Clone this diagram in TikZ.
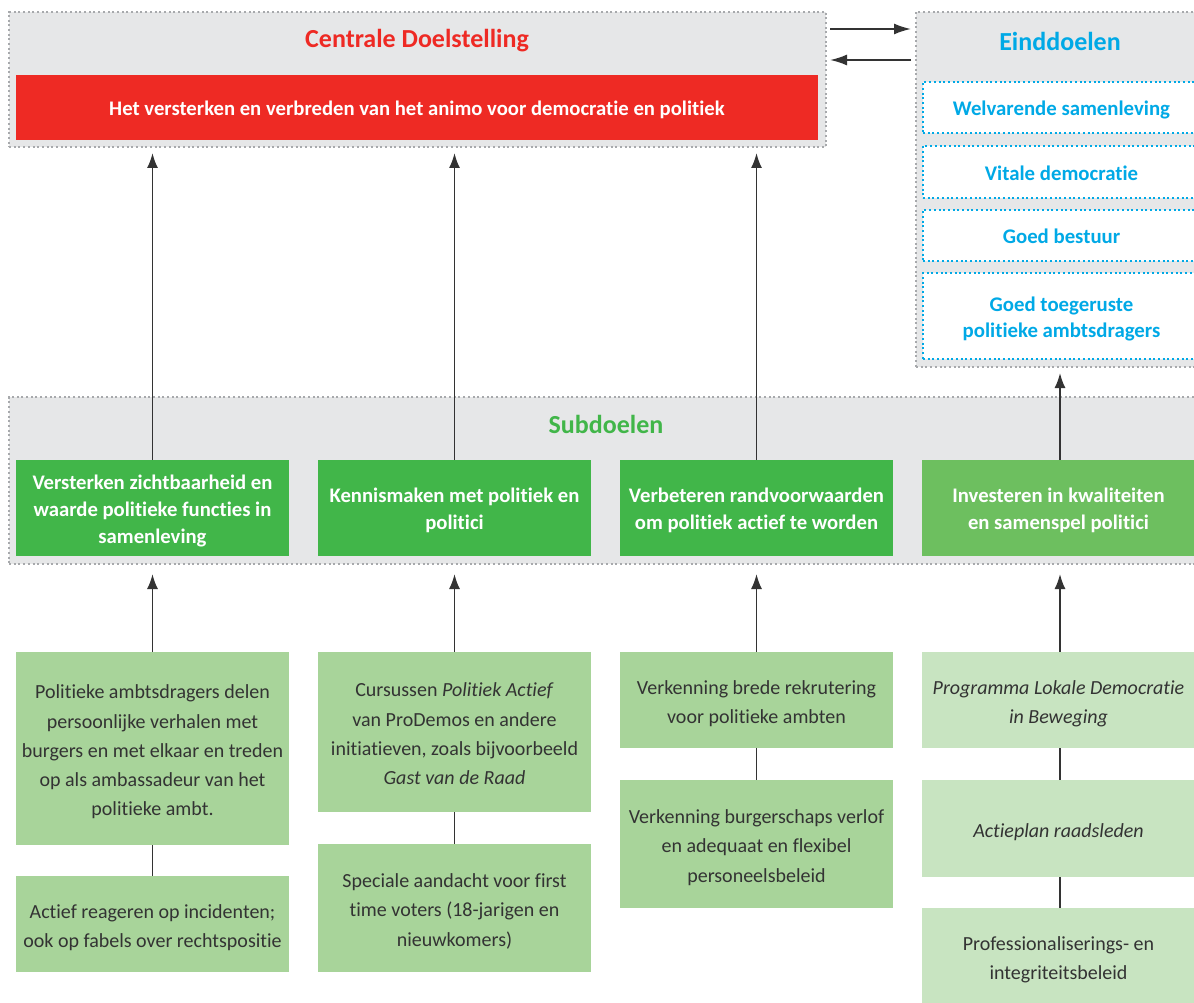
\documentclass[tikz,border=0pt]{standalone}
\usepackage{fontspec}
\setmainfont[Ligatures=NoCommon]{Carlito}
\usetikzlibrary{arrows.meta}
\definecolor{lichtgrijs}{HTML}{E6E7E8}
\definecolor{randgrijs}{HTML}{A7A9AC}
\definecolor{rood}{HTML}{EE2A24}
\definecolor{blauw}{HTML}{00A9E6}
\definecolor{groen}{HTML}{41B649}
\definecolor{groenlicht}{HTML}{6DBF5F}
\definecolor{mosgroen}{HTML}{A8D49A}
\definecolor{bleekgroen}{HTML}{C8E4C1}
\definecolor{tekst}{HTML}{333333}
\definecolor{lijn}{HTML}{333333}
\newcommand{\regels}[1]{\raisebox{-3pt}[\height][\depth]{\begin{tabular}{@{}c@{}}#1\end{tabular}}}

\begin{document}
\begin{tikzpicture}[x=1pt,y=-1pt]
	\tikzstyle{paneel}=[draw=randgrijs,fill=lichtgrijs,line width=2pt,dash pattern=on 2pt off 2.7pt,inner sep=0pt]
	\tikzstyle{titel}=[font=\fontsize{26}{30}\selectfont\bfseries]
	\tikzstyle{doel}=[fill=rood,text=white,font=\fontsize{20.7}{27}\selectfont\bfseries,minimum width=802,minimum height=65,inner sep=0pt]
	\tikzstyle{eind}=[draw=blauw,fill=white,line width=2pt,dash pattern=on 2pt off 2.7pt,text=blauw,font=\fontsize{20.8}{26}\selectfont\bfseries,minimum width=277,inner sep=0pt]
	\tikzstyle{sub}=[fill=groen,text=white,font=\fontsize{20.7}{27}\selectfont\bfseries,minimum width=273,minimum height=96,inner sep=0pt]
	\tikzstyle{actie}=[fill=mosgroen,text=tekst,font=\fontsize{20}{29.3}\selectfont,minimum width=273,inner sep=0pt]
	\tikzstyle{pijl}=[draw=lijn,line width=1.8pt,-{Latex[length=15pt,width=11pt]}]
	\tikzstyle{lijntje}=[draw=lijn,line width=1.8pt]
	\useasboundingbox (0,0) rectangle (1194,1003);

	\node[paneel,minimum width=817,minimum height=135] (cen) at (417.5,79.5) {};
	\node[titel,text=rood] (centitel) at (417,41) {Centrale Doelstelling};
	\node[doel] (hoofd) at (417,107.5) {\regels{Het versterken en verbreden van het animo voor democratie en politiek}};

	\node[paneel,minimum width=290,minimum height=355] (ein) at (1061,189.5) {};
	\node[titel,text=blauw] (eintitel) at (1060,41) {Einddoelen};
	\node[eind,minimum height=51] (e1) at (1061.5,107.5) {\regels{Welvarende samenleving}};
	\node[eind,minimum height=52] (e2) at (1061.5,172) {\regels{Vitale democratie}};
	\node[eind,minimum height=51] (e3) at (1061.5,235.5) {\regels{Goed bestuur}};
	\node[eind,minimum height=86] (e4) at (1061.5,316) {\regels{Goed toegeruste\\politieke ambtsdragers}};

	\draw[pijl,shorten <=3pt,shorten >=4pt,-{Latex[length=17pt,width=11pt]}] ([yshift=-18pt]cen.north east) -- ([yshift=-18pt]ein.north west);
	\draw[pijl,shorten <=4pt,shorten >=3pt,-{Latex[length=17pt,width=11pt]}] ([yshift=-49pt]ein.north west) -- ([yshift=-49pt]cen.north east);

	\node[paneel,minimum width=1195,minimum height=167] (subp) at (606.5,480.5) {};
	\node[titel,text=groen] (subtitel) at (606,424) {Subdoelen};
	\node[sub] (s1) at (152.5,508) {\regels{Versterken zichtbaarheid en\\waarde politieke functies in\\samenleving}};
	\node[sub] (s2) at (454.5,508) {\regels{Kennismaken met politiek en\\politici}};
	\node[sub] (s3) at (756.5,508) {\regels{Verbeteren randvoorwaarden\\om politiek actief te worden}};
	\node[sub,fill=groenlicht] (s4) at (1058.5,508) {\regels{Investeren in kwaliteiten\\en samenspel politici}};

	\draw[pijl,shorten >=5pt] (s1.north) -- (s1.north |- cen.south);
	\draw[pijl,shorten >=5pt] (s2.north) -- (s2.north |- cen.south);
	\draw[pijl,shorten >=5pt] (s3.north) -- (s3.north |- cen.south);
	\draw[pijl,shorten >=5pt] ([xshift=1.5pt]s4.north) -- ([xshift=1.5pt]s4.north |- ein.south);

	\node[actie,minimum height=193] (a1) at (152.5,748.5) {\regels{Politieke ambtsdragers delen\\persoonlijke verhalen met\\burgers en met elkaar en treden\\op als ambassadeur van het\\politieke ambt.}};
	\node[actie,minimum height=96] (a2) at (152.5,924) {\regels{Actief reageren op incidenten;\\ook op fabels over rechtspositie}};
	\node[actie,minimum height=160] (b1) at (454.5,732) {\regels{Cursussen \textit{Politiek Actief}\\van ProDemos en andere\\initiatieven, zoals bijvoorbeeld\\\textit{Gast van de Raad}}};
	\node[actie,minimum height=128] (b2) at (454.5,908) {\regels{Speciale aandacht voor first\\time voters (18-jarigen en\\nieuwkomers)}};
	\node[actie,minimum height=96] (c1) at (756.5,700) {\regels{Verkenning brede rekrutering\\voor politieke ambten}};
	\node[actie,minimum height=128] (c2) at (756.5,844) {\regels{Verkenning burgerschaps verlof\\en adequaat en flexibel\\personeelsbeleid}};
	\node[actie,fill=bleekgroen,minimum height=96] (d1) at (1058.5,700) {\regels{\textit{Programma Lokale Democratie}\\\textit{in Beweging}}};
	\node[actie,fill=bleekgroen,minimum height=97] (d2) at (1058.5,828.5) {\regels{\textit{Actieplan raadsleden}}};
	\node[actie,fill=bleekgroen,minimum height=96] (d3) at (1058.5,956) {\regels{Professionaliserings- en\\integriteitsbeleid}};

	\draw[pijl,shorten >=9pt] (a1.north) -- (a1.north |- subp.south);
	\draw[pijl,shorten >=9pt] (b1.north) -- (b1.north |- subp.south);
	\draw[pijl,shorten >=9pt] (c1.north) -- (c1.north |- subp.south);
	\draw[pijl,shorten >=9pt] ([xshift=1.5pt]d1.north) -- ([xshift=1.5pt]d1.north |- subp.south);
	\draw[lijntje] (a1) -- (a2);
	\draw[lijntje] (b1) -- (b2);
	\draw[lijntje] (c1) -- (c2);
	\draw[lijntje] ([xshift=1.5pt]d1.south) -- ([xshift=1.5pt]d2.north);
	\draw[lijntje] ([xshift=1.5pt]d2.south) -- ([xshift=1.5pt]d3.north);
\end{tikzpicture}
\end{document}
